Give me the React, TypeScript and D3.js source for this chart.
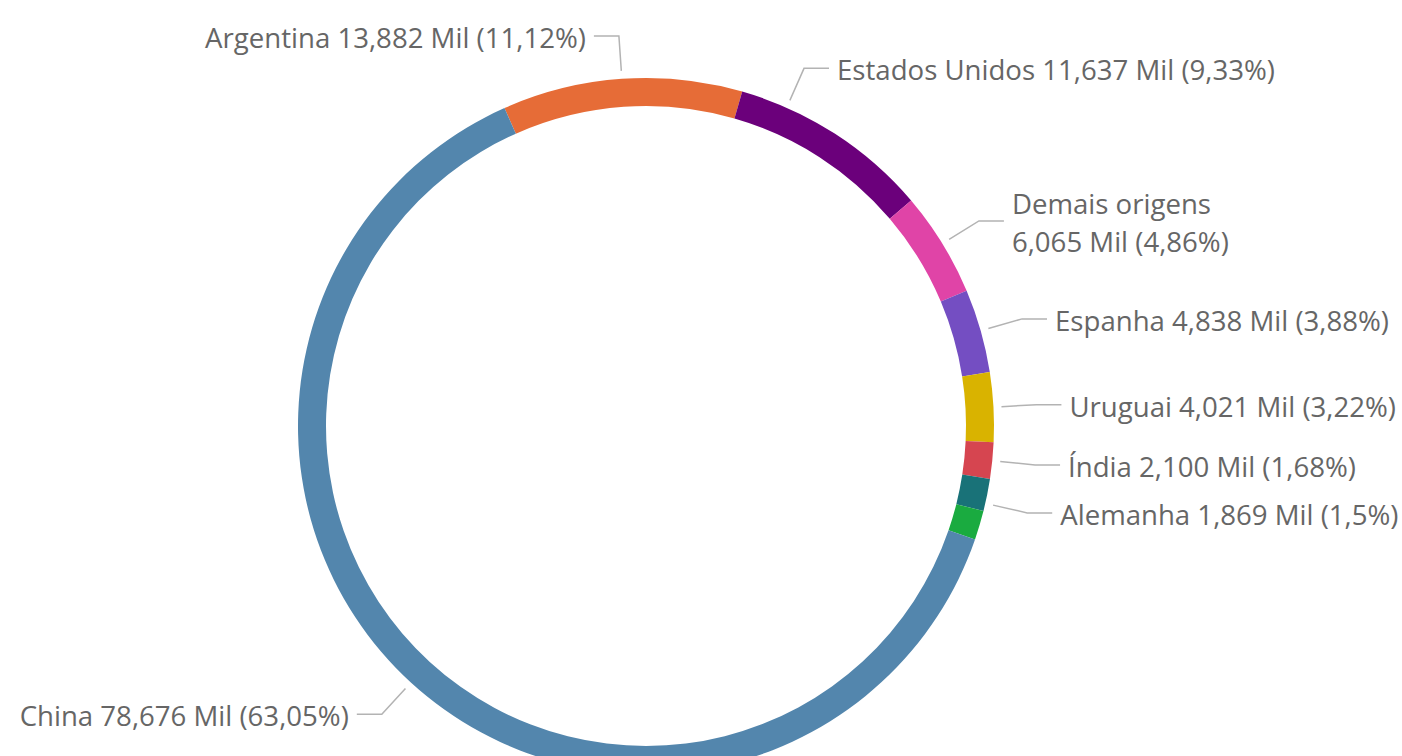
import React from "react";
import * as d3 from "d3";

const categories = ["Argentina", "Estados Unidos", "Demais origens", "Espanha", "Uruguai", "Índia", "Alemanha", "Outros", "China"];
const valuesMil = [13.882, 11.637, 6.065, 4.838, 4.021, 2.1, 1.869, 1.692, 78.676];
const percents = [11.12, 9.33, 4.86, 3.88, 3.22, 1.68, 1.5, 1.36, 63.05];
const showLabel = [true, true, true, true, true, true, true, false, true];
const colors = ["#E66C37", "#6B007B", "#E044A7", "#744EC2", "#D9B300", "#D64550", "#197278", "#1AAB40", "#5386AD"];

const W = 1402;
const H = 756;
const cx = 646;
const cy = 426;
const outerR = 348;
const innerR = 320;
const startDeg = -24;
const fontSize = 27.6;
const fontFamily = "'Segoe UI', 'Open Sans', sans-serif";
const leaderAngleShift: Record<string, number> = { "Estados Unidos": -9 };
const minLabelGap = 48;

const fmtVal = (v: number) => v.toFixed(3).replace(".", ",");
const fmtPct = (p: number) => String(p).replace(".", ",");

function measure(text: string): number {
  if (typeof document === "undefined") return text.length * fontSize * 0.5;
  const c = document.createElement("canvas").getContext("2d");
  if (!c) return text.length * fontSize * 0.5;
  c.font = `${fontSize}px 'Segoe UI', 'Open Sans', sans-serif`;
  return c.measureText(text).width;
}

export default function App() {
  const data = categories.map((c, i) => ({ name: c, value: valuesMil[i], pct: percents[i], color: colors[i], show: showLabel[i] }));
  const start = (startDeg * Math.PI) / 180;
  const pie = d3.pie<any>().sort(null).value((d) => d.value).startAngle(start).endAngle(start + 2 * Math.PI);
  const arcs = pie(data);
  const arcGen = d3.arc<any>().innerRadius(innerR).outerRadius(outerR).padAngle(0);

  const r1 = outerR + 8;
  const r2 = outerR + 43;
  const hLen = 25;
  const gap = 8;

  const polar = (a: number, r: number): [number, number] => [cx + r * Math.sin(a), cy - r * Math.cos(a)];

  const labels = arcs
    .filter((a) => a.data.show)
    .map((a) => {
      const shift = ((leaderAngleShift[a.data.name] || 0) * Math.PI) / 180;
      const mid = (a.startAngle + a.endAngle) / 2 + shift;
      const norm = ((mid % (2 * Math.PI)) + 2 * Math.PI) % (2 * Math.PI);
      const right = norm < Math.PI && norm > 0.001;
      return { a, angle: mid, right, y: polar(mid, r2)[1] };
    });

  const rightSide = labels.filter((l) => l.right).sort((p, q) => p.y - q.y);
  for (let i = 1; i < rightSide.length; i++) {
    const prev = rightSide[i - 1];
    const cur = rightSide[i];
    if (cur.y - prev.y < minLabelGap) {
      cur.y = prev.y + minLabelGap;
      const c = Math.max(-1, Math.min(1, (cy - cur.y) / r2));
      cur.angle = Math.acos(c);
    }
  }

  return (
    <svg width={W} height={H} style={{ position: "absolute", left: 0, top: 0, background: "#fff" }}>
      <g>
        {arcs.map((a, i) => (
          <path key={i} d={arcGen(a) as string} transform={`translate(${cx},${cy})`} fill={a.data.color} />
        ))}
      </g>
      <g>
        {labels.map((l, i) => {
          const a = l.a;
          const right = l.right;
          const p1 = polar(l.angle, r1);
          const p2 = polar(l.angle, r2);
          const p3: [number, number] = [p2[0] + (right ? hLen : -hLen), p2[1]];
          const tx = p3[0] + (right ? gap : -gap);
          const full = `${a.data.name} ${fmtVal(a.data.value)} Mil (${fmtPct(a.data.pct)}%)`;
          const w = measure(full);
          const wrap = right ? tx + w > W + 2 : tx - w < 0;
          const base = p2[1] + fontSize * 0.43;
          return (
            <g key={i}>
              <polyline points={[p1, p2, p3].map((p) => p.join(",")).join(" ")} fill="none" stroke="#b3b3b3" strokeWidth={1.5} />
              {wrap ? (
                <text x={tx} y={base - 19} fill="#666666" fontFamily={fontFamily} fontSize={fontSize} textAnchor={right ? "start" : "end"}>
                  <tspan x={tx}>{a.data.name}</tspan>
                  <tspan x={tx} dy={38}>{`${fmtVal(a.data.value)} Mil (${fmtPct(a.data.pct)}%)`}</tspan>
                </text>
              ) : (
                <text x={tx} y={base} fill="#666666" fontFamily={fontFamily} fontSize={fontSize} textAnchor={right ? "start" : "end"}>
                  {full}
                </text>
              )}
            </g>
          );
        })}
      </g>
    </svg>
  );
}
